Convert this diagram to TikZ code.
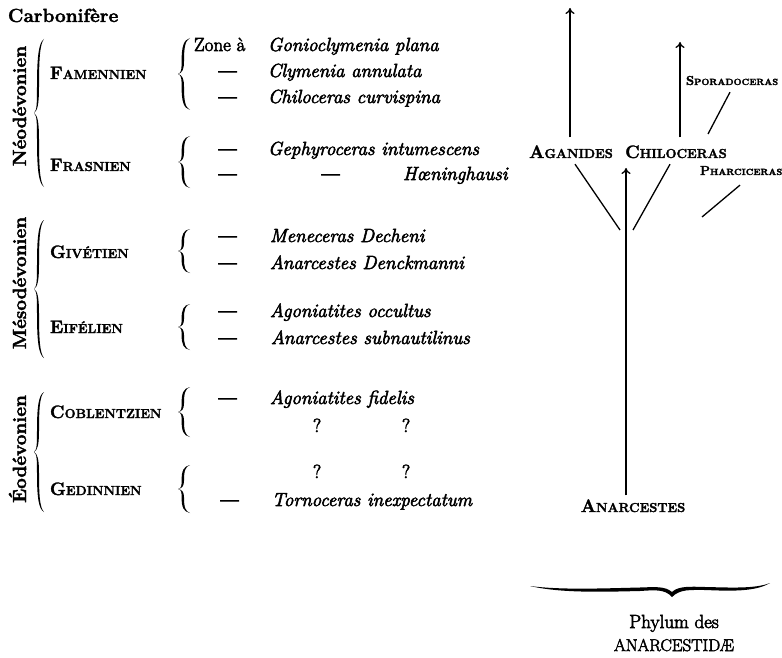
\documentclass[tikz,border=0pt]{standalone}
\usepackage{fontspec}
\setmainfont{Latin Modern Roman}[UprightFeatures={FakeBold=3}, ItalicFeatures={FakeBold=3}, BoldFeatures={FakeBold=2}]
\newfontfamily\dashfont{Latin Modern Roman}[FakeBold=6]
\usetikzlibrary{arrows.meta,calc}

% small capitals built from two sizes of the bold face
\newcommand\capword[2]{{\fontsize{18}{20}\selectfont #1}{\fontsize{13}{15}\selectfont #2}}
\newcommand\capwordsmall[2]{{\fontsize{13}{15}\selectfont #1}{\fontsize{9}{11}\selectfont #2}}

\tikzset{
  every node/.style={inner sep=0pt, outer sep=0pt},
  period/.style={anchor=base, rotate=90, font=\fontsize{19}{22}\selectfont\bfseries},
  stage/.style={anchor=base west, font=\bfseries},
  zonetext/.style={anchor=base west, font=\fontsize{19}{22}\selectfont},
  dashmark/.style={anchor=base west, font=\fontsize{19}{22}\selectfont\dashfont},
  species/.style={anchor=base west, font=\fontsize{19}{22}\selectfont\itshape},
  genus/.style={font=\bfseries},
  branch/.style={line width=1.3pt},
  growarrow/.style={branch, -{To[length=6pt,width=9pt]}},
  % curly brace: tip at the origin, ends at (1,1) and (1,-1)
  vbrace/.pic={
    \fill (0,0) .. controls (0.3,-0.03) and (0.3,-0.15) .. (0.3,-0.35)
          .. controls (0.3,-0.75) and (0.45,-0.95) .. (1,-1)
          .. controls (0.6,-0.93) and (0.5,-0.75) .. (0.5,-0.35)
          .. controls (0.5,-0.12) and (0.35,-0.03) .. (0,0) -- cycle;
    \fill (0,0) .. controls (0.3,0.03) and (0.3,0.15) .. (0.3,0.35)
          .. controls (0.3,0.75) and (0.45,0.95) .. (1,1)
          .. controls (0.6,0.93) and (0.5,0.75) .. (0.5,0.35)
          .. controls (0.5,0.12) and (0.35,0.03) .. (0,0) -- cycle;
  }
}

\begin{document}
\begin{tikzpicture}[x=1pt,y=-1pt]
\useasboundingbox (0,0) rectangle (782,658);

% ---- periods ----
\node[anchor=base west, font=\fontsize{19}{22}\selectfont\bfseries] (carb) at (8,22) {Carbonifère};
\node[period] (neo)  at (26,106) {Néodévonien};
\node[period] (meso) at (26,283) {Mésodévonien};
\node[period] (eo)   at (26,449) {Éodévonien};

\pic[xscale=10, yscale=74] at (34,113) {vbrace};
\pic[xscale=10, yscale=69] at (34,289) {vbrace};
\pic[xscale=10, yscale=60] at (34,452) {vbrace};

% ---- stages ----
\node[stage] (famen)  at (50,79)  {\capword{F}{AMENNIEN}};
\node[stage] (frasn)  at (50,171) {\capword{F}{RASNIEN}};
\node[stage] (givet)  at (50,258) {\capword{G}{IVÉTIEN}};
\node[stage] (eifel)  at (50,333) {\capword{E}{IFÉLIEN}};
\node[stage] (coblen) at (50,418) {\capword{C}{OBLENTZIEN}};
\node[stage] (gedin)  at (50,495) {\capword{G}{EDINNIEN}};

\pic[xscale=12, yscale=36] at (178,74)  {vbrace};
\pic[xscale=12, yscale=26] at (178,162) {vbrace};
\pic[xscale=12, yscale=22] at (178,251) {vbrace};
\pic[xscale=12, yscale=23] at (178,327) {vbrace};
\pic[xscale=12, yscale=25] at (178,412) {vbrace};
\pic[xscale=12, yscale=24] at (178,489) {vbrace};

% ---- zones ----
\node[zonetext] (zone) at (194,51) {Zone à};
\node[species] (z1) at (268,51) {Gonioclymenia plana};
\node[dashmark] (d2) at (219,77) {—};
\node[species] (z2) at (268,77) {Clymenia annulata};
\node[dashmark] (d3) at (219,103) {—};
\node[species] (z3) at (268,103) {Chiloceras curvispina};
\node[dashmark] (d4) at (219,155) {—};
\node[species] (z4) at (268,155) {Gephyroceras intumescens};
\node[dashmark] (d5) at (219,180) {—};
\node[dashmark] (d5b) at (322,180) {—};
\node[species] (z5) at (403,180) {Hœninghausi};

\node[dashmark] (d6) at (219,242) {—};
\node[species] (z6) at (270,242) {Meneceras Decheni};
\node[dashmark] (d7) at (219,269) {—};
\node[species] (z7) at (270,269) {Anarcestes Denckmanni};
\node[dashmark] (d8) at (219,317) {—};
\node[species] (z8) at (270,317) {Agoniatites occultus};
\node[dashmark] (d9) at (219,344) {—};
\node[species] (z9) at (271,344) {Anarcestes subnautilinus};

\node[dashmark] (d10) at (219,404) {—};
\node[species] (z10) at (270,404) {Agoniatites fidelis};
\node[zonetext] (q1) at (313,432) {?};
\node[zonetext] (q2) at (402,432) {?};
\node[zonetext] (q3) at (313,478) {?};
\node[zonetext] (q4) at (402,478) {?};
\node[dashmark] (d11) at (221,506) {—};
\node[species] (z11) at (272,506) {Tornoceras inexpectatum};

% ---- phylum tree ----
\node[genus, anchor=base] (aganides)   at (571,158) {\capword{A}{GANIDES}};
\node[genus, anchor=base] (chiloceras) at (676,158) {\capword{C}{HILOCERAS}};
\node[genus, anchor=base west] (sporado) at (686,85) {\capwordsmall{S}{PORADOCERAS}};
\node[genus, anchor=base west] (pharci)  at (700,175) {\capwordsmall{P}{HARCICERAS}};
\node[genus, anchor=base] (anarcestes) at (633,512) {\capword{A}{NARCESTES}};

\coordinate (agtop) at (570,8);
\coordinate (chtop) at (680,42);
\coordinate (trunktop) at (626,168);
\coordinate (forkL) at (620,230);
\coordinate (forkR) at (633,230);
\coordinate (spfoot) at (708,134);
\coordinate (phfoot) at (702,217);

\draw[growarrow] ($(aganides.north -| agtop)+(0,-8)$) -- (agtop);
\draw[growarrow] ($(chiloceras.north -| chtop)+(0,-8)$) -- (chtop);
\draw[growarrow] ($(anarcestes.north -| trunktop)+(0,-4)$) -- (trunktop);
\draw[branch] ($(aganides.south)+(4,6)$) -- (forkL);
\draw[branch] ($(chiloceras.south)+(-6,6)$) -- (forkR);
\draw[branch] ($(sporado.south west)+(44,7)$) -- (spfoot);
\draw[branch] ($(pharci.south west)+(40,10)$) -- (phfoot);

% ---- horizontal brace and caption ----
\fill (530,586) .. controls (560,593) and (600,592) .. (640,591)
      .. controls (655,590) and (665,589) .. (672,597)
      .. controls (680,589) and (690,590) .. (705,590)
      .. controls (730,591) and (755,592) .. (770,583)
      .. controls (755,589) and (730,587.5) .. (705,587)
      .. controls (690,586.5) and (678,586) .. (672,592)
      .. controls (665,586) and (655,587) .. (640,587.5)
      .. controls (600,588.5) and (560,590) .. (530,586) -- cycle;
\node[anchor=base, font=\fontsize{19}{22}\selectfont] (phylum) at (674,628) {Phylum des};
\node[anchor=base, font=\fontsize{17}{20}\selectfont] (family) at (674,651) {ANARCESTIDÆ};
\end{tikzpicture}
\end{document}
